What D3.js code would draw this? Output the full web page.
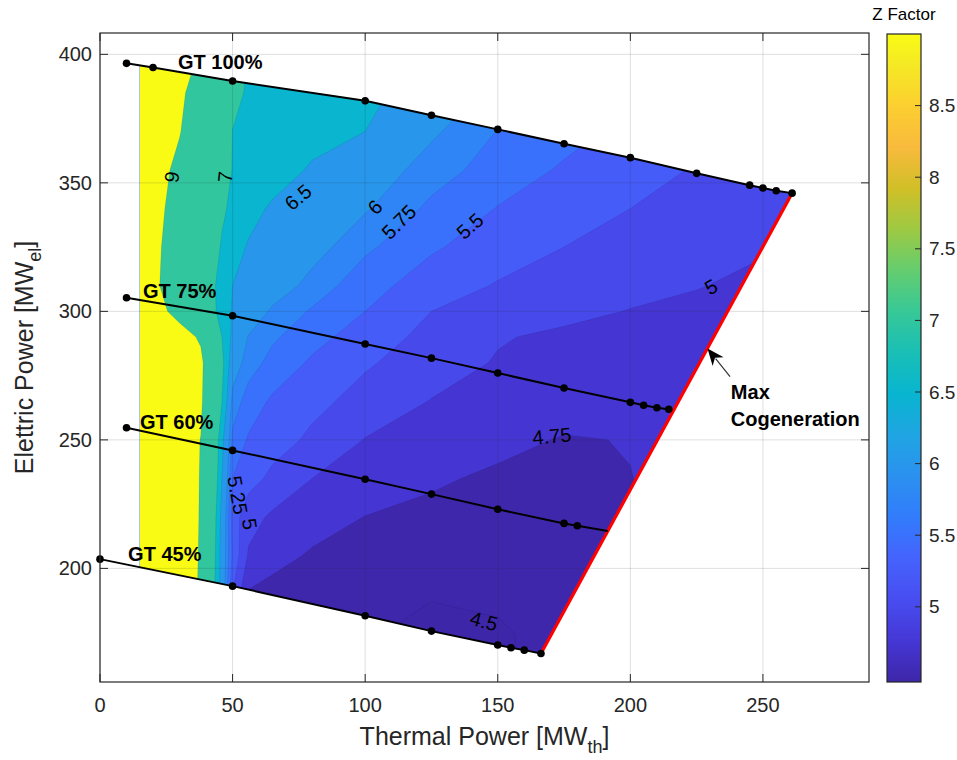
<!DOCTYPE html>
<html>
<head>
<meta charset="utf-8">
<script src="https://cdn.jsdelivr.net/npm/d3@7"></script>
<style>
  body { margin: 0; background: #fff; }
  text { font-family: "Liberation Sans", Arial, Helvetica, sans-serif; }
</style>
</head>
<body>
<div id="chart"></div>
<script>
// ---- data ----
const thermal = [15, 22, 30, 38, 42, 46, 50, 56, 65, 80, 100, 125, 150, 175, 200, 225, 250, 270];
const electric = [160, 175, 190, 205, 220, 235, 250, 265, 280, 290, 300, 310, 325, 340, 355, 370, 385, 400];
// one row per electric value (bottom to top), one column per thermal value
const zFactor = [
  [9.9, 9.7, 9.5, 8.9, 7.3, 6.2, 5.2, 4.68, 4.6, 4.52, 4.5, 4.4, 4.47, 4.56, 4.56, 4.56, 4.56, 4.56],
  [9.9, 9.7, 9.5, 8.9, 7.3, 6.2, 5.2, 4.7, 4.62, 4.56, 4.53, 4.42, 4.48, 4.56, 4.56, 4.56, 4.56, 4.56],
  [9.9, 9.7, 9.5, 8.9, 7.33, 6.25, 5.25, 4.72, 4.66, 4.6, 4.56, 4.52, 4.53, 4.56, 4.57, 4.58, 4.58, 4.58],
  [9.9, 9.7, 9.5, 8.93, 7.43, 6.28, 5.44, 4.97, 4.84, 4.72, 4.64, 4.58, 4.56, 4.58, 4.6, 4.6, 4.6, 4.6],
  [9.9, 9.7, 9.5, 8.95, 7.5, 6.33, 5.38, 5.09, 4.96, 4.86, 4.745, 4.68, 4.62, 4.6, 4.62, 4.7, 4.7, 4.7],
  [9.9, 9.7, 9.5, 8.96, 7.67, 6.5, 5.5, 5.35, 5.19, 5.0, 4.91, 4.79, 4.7, 4.68, 4.745, 4.85, 4.85, 4.85],
  [9.9, 9.7, 9.5, 8.98, 7.77, 6.62, 5.69, 5.47, 5.36, 5.2, 4.99, 4.9, 4.83, 4.73, 4.76, 4.8, 4.8, 4.8],
  [9.9, 9.7, 9.5, 9.15, 8.14, 7.0, 5.89, 5.64, 5.46, 5.32, 5.16, 4.99, 4.93, 4.88, 4.84, 4.8, 4.78, 4.76],
  [9.9, 9.7, 9.5, 9.2, 8.29, 7.14, 6.2, 5.86, 5.67, 5.46, 5.28, 5.12, 4.98, 4.92, 4.87, 4.83, 4.8, 4.78],
  [9.8, 9.6, 9.4, 8.88, 7.94, 7.0, 6.4, 5.98, 5.79, 5.59, 5.37, 5.18, 5.02, 4.95, 4.9, 4.86, 4.83, 4.8],
  [9.5, 9.25, 8.67, 7.68, 7.19, 6.77, 6.46, 6.23, 5.95, 5.72, 5.5, 5.25, 5.16, 5.07, 4.99, 4.95, 4.9, 4.86],
  [9.35, 9.05, 8.28, 7.51, 7.13, 6.79, 6.5, 6.38, 6.18, 5.9, 5.59, 5.38, 5.23, 5.16, 5.08, 5.01, 4.95, 4.9],
  [9.4, 9.1, 8.4, 7.65, 7.28, 6.94, 6.69, 6.46, 6.33, 6.12, 5.8, 5.53, 5.38, 5.25, 5.17, 5.09, 5.02, 4.95],
  [9.5, 9.2, 8.55, 7.82, 7.45, 7.09, 6.88, 6.65, 6.44, 6.27, 6.03, 5.69, 5.49, 5.36, 5.25, 5.15, 5.05, 4.97],
  [9.6, 9.3, 8.75, 8.0, 7.63, 7.25, 6.98, 6.87, 6.7, 6.45, 6.2, 5.87, 5.63, 5.47, 5.35, 5.23, 5.11, 5.02],
  [9.7, 9.4, 9.05, 8.23, 7.81, 7.38, 6.995, 6.93, 6.82, 6.65, 6.5, 6.05, 5.74, 5.58, 5.44, 5.32, 5.2, 5.1],
  [9.8, 9.5, 9.2, 8.48, 8.02, 7.55, 7.09, 6.96, 6.88, 6.75, 6.6, 6.3, 5.89, 5.68, 5.54, 5.41, 5.29, 5.2],
  [9.8, 9.6, 9.3, 8.94, 8.42, 7.9, 7.39, 6.98, 6.92, 6.82, 6.7, 6.55, 6.01, 5.79, 5.64, 5.5, 5.38, 5.29]
];
const levels = [4.5, 4.75, 5, 5.25, 5.5, 5.75, 6, 6.5, 7, 9];
const zRange = [4.475, 9.0];

// GT load lines (thermal, electric)
const gt100X = [10, 20, 50, 100, 125, 150, 175, 200, 225, 245, 250, 255, 261];
const gt100Y = [396.5, 394.9, 389.6, 381.9, 376.3, 370.8, 365.2, 359.8, 353.7, 349.1, 348, 346.9, 346];
const gt75X = [10, 50, 100, 125, 150, 175, 200, 205, 210, 214.5];
const gt75Y = [305.3, 298.3, 287.3, 281.8, 276, 270.2, 264.6, 263.5, 262.5, 261.9];
const gt60X = [10, 50, 100, 125, 150, 175, 180];
const gt60Y = [254.7, 245.9, 234.7, 228.9, 223, 217.5, 216.6];
const gt45X = [0, 50, 100, 125, 150, 155, 160, 166.3];
const gt45Y = [203.6, 193.1, 181.6, 175.6, 170.2, 169.1, 168.2, 166.9];

const xTicks = [0, 50, 100, 150, 200, 250];
const yTicks = [200, 250, 300, 350, 400];
const cTicks = [5, 5.5, 6, 6.5, 7, 7.5, 8, 8.5];

const labelText = ['9', '7', '6.5', '6', '5.75', '5.5', '5.25', '5', '5', '4.75', '4.5'];
const labelX = [27.1, 47.2, 74.7, 103.7, 112.7, 139.5, 51.9, 56.4, 230.4, 170.4, 144.8];
const labelY = [352.3, 352.3, 344.4, 340.6, 334.8, 333.2, 228.5, 217.3, 309.5, 251.5, 179.5];
const labelAngle = [-82, -84, -40, -45, -45, -42, 80, 80, -30, -5, 15];

const gtNames = ['GT 100%', 'GT 75%', 'GT 60%', 'GT 45%'];
const gtNameX = [29.4, 16.2, 15.1, 10.6];
const gtNameY = [394.3, 305.2, 254.2, 202.8];

// ---- setup ----
const width = 957, height = 760;
const plot = {left: 100, right: 869, top: 33, bottom: 682};
const bar = {left: 887, right: 921, top: 34, bottom: 682};
const AXIS = '#262626';

const svg = d3.select('#chart').append('svg')
  .attr('width', width).attr('height', height);

const x = d3.scaleLinear().domain([0, 290]).range([plot.left, plot.right]);
const y = d3.scaleLinear().domain([155.8, 408.3]).range([plot.bottom, plot.top]);
const cy = d3.scaleLinear().domain(zRange).range([bar.bottom, bar.top]);

// parula colormap
const parulaStops = [
  [0.2422, 0.1504, 0.6603], [0.2706, 0.2147, 0.8364], [0.2813, 0.3006, 0.9414], [0.2699, 0.3892, 0.9906],
  [0.1963, 0.4847, 0.9892], [0.1687, 0.5703, 0.9359], [0.1248, 0.6459, 0.8883], [0.0297, 0.7082, 0.8163],
  [0.0964, 0.7500, 0.7120], [0.2161, 0.7843, 0.5923], [0.3909, 0.8029, 0.4354], [0.6174, 0.7876, 0.2612],
  [0.8203, 0.7498, 0.1535], [0.9728, 0.7298, 0.2394], [0.9892, 0.8136, 0.1885], [0.9597, 0.9135, 0.1423],
  [0.9769, 0.9839, 0.0805]
];
const parulaPos = [0, 4, 8, 12, 16, 20, 24, 28, 32, 36, 40, 44, 48, 52, 56, 60, 63].map(i => i / 63);
const parulaHex = parulaStops.map(c => d3.rgb(c[0] * 255, c[1] * 255, c[2] * 255).formatHex());
const parula = d3.scaleLinear().domain(parulaPos).range(parulaHex)
  .interpolate(d3.interpolateRgb).clamp(true);
const zColor = v => parula((v - zRange[0]) / (zRange[1] - zRange[0]));

const defs = svg.append('defs');

// feasible region: x = 15 on the left, GT100 on top, max cogeneration, GT45 below
const top100 = d3.scaleLinear().domain(gt100X).range(gt100Y);
const bot45 = d3.scaleLinear().domain(gt45X).range(gt45Y);
const x0 = thermal[0];
const region = [[x0, top100(x0)]];
gt100X.forEach((v, i) => { if (v > x0) region.push([v, gt100Y[i]]); });
for (let i = gt45X.length - 1; i >= 0; i--) {
  if (gt45X[i] > x0) region.push([gt45X[i], gt45Y[i]]);
}
region.push([x0, bot45(x0)]);

const regionLine = d3.line().x(d => x(d[0])).y(d => y(d[1]));
defs.append('clipPath').attr('id', 'region')
  .append('path').attr('d', regionLine(region) + 'Z');
// keeps the iso lines off the left edge of the grid
defs.append('clipPath').attr('id', 'inner')
  .append('rect')
  .attr('x', x(x0) + 1.5).attr('y', plot.top)
  .attr('width', plot.right - x(x0)).attr('height', plot.bottom - plot.top);

// ---- filled contours ----
const n = thermal.length, m = electric.length;
const colIdx = d3.scaleLinear().domain(d3.range(n)).range(thermal).clamp(true);
const rowIdx = d3.scaleLinear().domain(d3.range(m)).range(electric).clamp(true);
const proj = d3.geoTransform({
  point: function(px, py) {
    this.stream.point(x(colIdx(px - 0.5)), y(rowIdx(py - 0.5)));
  }
});
const geo = d3.geoPath(proj);
const bands = d3.contours().size([n, m]).thresholds(levels)(zFactor.flat());

const fillG = svg.append('g').attr('clip-path', 'url(#region)');
fillG.append('path').attr('d', regionLine(region) + 'Z').attr('fill', zColor(zRange[0]));
fillG.selectAll('.band')
  .data(bands)
  .enter()
  .append('path')
  .attr('class', 'band')
  .attr('d', geo)
  .attr('fill', d => zColor(d.value));
fillG.append('g').attr('clip-path', 'url(#inner)')
  .selectAll('.iso')
  .data(bands)
  .enter()
  .append('path')
  .attr('class', 'iso')
  .attr('d', geo)
  .attr('fill', 'none')
  .attr('stroke', '#000')
  .attr('stroke-opacity', 0.1)
  .attr('stroke-width', 0.8);

// ---- grid (drawn on top like MATLAB layer top) ----
const grid = svg.append('g').attr('stroke', AXIS).attr('stroke-opacity', 0.15).attr('stroke-width', 1);
xTicks.forEach(t => {
  grid.append('line').attr('x1', x(t)).attr('x2', x(t)).attr('y1', plot.top).attr('y2', plot.bottom);
});
yTicks.forEach(t => {
  grid.append('line').attr('x1', plot.left).attr('x2', plot.right).attr('y1', y(t)).attr('y2', y(t));
});

// ---- contour labels ----
svg.selectAll('.clabel')
  .data(labelText)
  .enter()
  .append('text')
  .attr('class', 'clabel')
  .attr('transform', (d, i) => `translate(${x(labelX[i])},${y(labelY[i])}) rotate(${labelAngle[i]})`)
  .attr('text-anchor', 'middle')
  .attr('dy', '0.35em')
  .attr('font-size', 20)
  .attr('fill', '#000')
  .text(d => d);

// ---- GT lines, max cogeneration ----
function intersect(p1, p2, p3, p4) {
  const d1 = [p2[0] - p1[0], p2[1] - p1[1]];
  const d2 = [p4[0] - p3[0], p4[1] - p3[1]];
  const den = d1[0] * d2[1] - d1[1] * d2[0];
  const t = ((p3[0] - p1[0]) * d2[1] - (p3[1] - p1[1]) * d2[0]) / den;
  return [p1[0] + t * d1[0], p1[1] + t * d1[1]];
}
const redA = [gt45X[gt45X.length - 1], gt45Y[gt45Y.length - 1]];
const redB = [gt100X[gt100X.length - 1], gt100Y[gt100Y.length - 1]];
const k60 = gt60X.length - 1;
const gt60End = intersect([gt60X[k60 - 1], gt60Y[k60 - 1]], [gt60X[k60], gt60Y[k60]], redA, redB);

const lineFn = d3.line().x(d => x(d[0])).y(d => y(d[1]));
const gtSets = [
  {xs: gt100X, ys: gt100Y, extra: null},
  {xs: gt75X, ys: gt75Y, extra: null},
  {xs: gt60X, ys: gt60Y, extra: gt60End},
  {xs: gt45X, ys: gt45Y, extra: null}
];

svg.append('path')
  .attr('d', lineFn([redA, redB]))
  .attr('stroke', '#FF0000')
  .attr('stroke-width', 3.2)
  .attr('fill', 'none');

gtSets.forEach(s => {
  const pts = s.xs.map((v, i) => [v, s.ys[i]]);
  const linePts = s.extra ? pts.concat([s.extra]) : pts;
  svg.append('path')
    .attr('d', lineFn(linePts))
    .attr('stroke', '#000')
    .attr('stroke-width', 2)
    .attr('fill', 'none');
  svg.append('g').selectAll('circle')
    .data(pts)
    .enter()
    .append('circle')
    .attr('cx', d => x(d[0]))
    .attr('cy', d => y(d[1]))
    .attr('r', 3.8)
    .attr('fill', '#000');
});

svg.selectAll('.gtname')
  .data(gtNames)
  .enter()
  .append('text')
  .attr('class', 'gtname')
  .attr('x', (d, i) => x(gtNameX[i]))
  .attr('y', (d, i) => y(gtNameY[i]))
  .attr('font-size', 20)
  .attr('font-weight', 'bold')
  .attr('fill', '#000')
  .text(d => d);

// arrow annotation
const arrowTip = [229.1, 285.6];
const arrowTail = [237.6, 274.6];
const tx = x(arrowTip[0]), ty = y(arrowTip[1]);
const sx = x(arrowTail[0]), sy = y(arrowTail[1]);
const ang = Math.atan2(ty - sy, tx - sx);
const headL = 17, headW = 7;
const ux = Math.cos(ang), uy = Math.sin(ang);
const bx = tx - ux * headL, by = ty - uy * headL;
svg.append('line')
  .attr('x1', sx).attr('y1', sy).attr('x2', bx + ux * 4).attr('y2', by + uy * 4)
  .attr('stroke', '#333').attr('stroke-width', 1.2);
svg.append('path')
  .attr('d', `M${tx},${ty}L${bx - uy * headW},${by + ux * headW}L${bx + ux * 5},${by + uy * 5}L${bx + uy * headW},${by - ux * headW}Z`)
  .attr('fill', '#000');

svg.append('text').attr('x', x(237.9)).attr('y', y(265.9))
  .attr('font-size', 20).attr('font-weight', 'bold').text('Max');
svg.append('text').attr('x', x(237.9)).attr('y', y(255.4))
  .attr('font-size', 20).attr('font-weight', 'bold').text('Cogeneration');

// ---- axes box and ticks ----
const axes = svg.append('g');
axes.append('rect')
  .attr('x', plot.left).attr('y', plot.top)
  .attr('width', plot.right - plot.left).attr('height', plot.bottom - plot.top)
  .attr('fill', 'none').attr('stroke', AXIS).attr('stroke-width', 1.2);
const tickLen = 8;
xTicks.forEach(t => {
  axes.append('line').attr('x1', x(t)).attr('x2', x(t))
    .attr('y1', plot.bottom).attr('y2', plot.bottom - tickLen).attr('stroke', AXIS);
  axes.append('line').attr('x1', x(t)).attr('x2', x(t))
    .attr('y1', plot.top).attr('y2', plot.top + tickLen).attr('stroke', AXIS);
  axes.append('text').attr('x', x(t)).attr('y', 712)
    .attr('text-anchor', 'middle').attr('font-size', 20).attr('fill', AXIS).text(t);
});
yTicks.forEach(t => {
  axes.append('line').attr('x1', plot.left).attr('x2', plot.left + tickLen)
    .attr('y1', y(t)).attr('y2', y(t)).attr('stroke', AXIS);
  axes.append('line').attr('x1', plot.right).attr('x2', plot.right - tickLen)
    .attr('y1', y(t)).attr('y2', y(t)).attr('stroke', AXIS);
  axes.append('text').attr('x', 92).attr('y', y(t)).attr('dy', '0.35em')
    .attr('text-anchor', 'end').attr('font-size', 20).attr('fill', AXIS).text(t);
});

const xLabel = axes.append('text')
  .attr('x', (plot.left + plot.right) / 2).attr('y', 745)
  .attr('text-anchor', 'middle').attr('font-size', 25).attr('fill', AXIS);
xLabel.append('tspan').text('Thermal Power [MW');
xLabel.append('tspan').attr('font-size', 18).attr('dy', 8).text('th');
xLabel.append('tspan').attr('dy', -8).text(']');

const yLabel = axes.append('text')
  .attr('transform', `translate(33,${(plot.top + plot.bottom) / 2}) rotate(-90)`)
  .attr('text-anchor', 'middle').attr('font-size', 25).attr('fill', AXIS);
yLabel.append('tspan').text('Elettric Power [MW');
yLabel.append('tspan').attr('font-size', 18).attr('dy', 8).text('el');
yLabel.append('tspan').attr('dy', -8).text(']');

// ---- colorbar ----
const grad = defs.append('linearGradient').attr('id', 'parula')
  .attr('x1', 0).attr('y1', 1).attr('x2', 0).attr('y2', 0);
parulaPos.forEach((p, i) => {
  grad.append('stop').attr('offset', p).attr('stop-color', parulaHex[i]);
});
svg.append('rect')
  .attr('x', bar.left).attr('y', bar.top)
  .attr('width', bar.right - bar.left).attr('height', bar.bottom - bar.top)
  .attr('fill', 'url(#parula)').attr('stroke', AXIS).attr('stroke-width', 1.2);
cTicks.forEach(t => {
  svg.append('line').attr('x1', bar.right).attr('x2', bar.right - 6)
    .attr('y1', cy(t)).attr('y2', cy(t)).attr('stroke', AXIS);
  svg.append('text').attr('x', 929).attr('y', cy(t)).attr('dy', '0.35em')
    .attr('font-size', 19).attr('fill', AXIS).text(t);
});
svg.append('text').attr('x', (bar.left + bar.right) / 2).attr('y', 20)
  .attr('text-anchor', 'middle').attr('font-size', 17).attr('fill', '#000').text('Z Factor');
</script>
</body>
</html>
